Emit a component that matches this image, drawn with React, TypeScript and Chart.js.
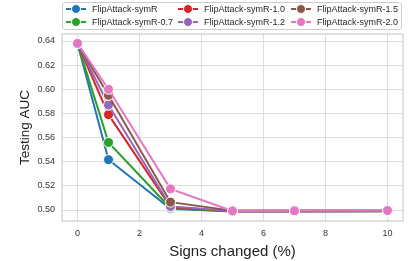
import React, { useEffect, useRef } from "react";
import { Chart, registerables } from "chart.js";
Chart.register(...registerables);

const xValues = [0, 1, 3, 5, 7, 10];
const seriesNames = [
  "FlipAttack-symR",
  "FlipAttack-symR-0.7",
  "FlipAttack-symR-1.0",
  "FlipAttack-symR-1.2",
  "FlipAttack-symR-1.5",
  "FlipAttack-symR-2.0",
];
const symR = [0.638, 0.5417, 0.501, 0.4988, 0.4988, 0.4989];
const symR07 = [0.638, 0.556, 0.5015, 0.4989, 0.4989, 0.499];
const symR10 = [0.638, 0.579, 0.5025, 0.499, 0.499, 0.4992];
const symR12 = [0.638, 0.587, 0.503, 0.4992, 0.4993, 0.4994];
const symR15 = [0.638, 0.595, 0.5065, 0.4995, 0.4995, 0.4997];
const symR20 = [0.638, 0.6, 0.5175, 0.4992, 0.4993, 0.4996];
const seriesValues = [symR, symR07, symR10, symR12, symR15, symR20];
const colors = ["#1f77b4", "#2ca02c", "#d62728", "#9467bd", "#8c564b", "#e377c2"];
const xTicks = [0, 2, 4, 6, 8, 10];
const yTicks = [0.5, 0.52, 0.54, 0.56, 0.58, 0.6, 0.62, 0.64];
const xTitle = "Signs changed (%)";
const yTitle = "Testing AUC";

const FONT = "'Liberation Sans', Arial, sans-serif";

const framePlugin = {
  id: "frame",
  beforeDatasetsDraw(chart: any) {
    const { ctx, chartArea: a } = chart;
    ctx.save();
    ctx.strokeStyle = "#cccccc";
    ctx.lineWidth = 1.2;
    ctx.strokeRect(a.left, a.top, a.right - a.left, a.bottom - a.top);
    ctx.restore();
  },
};

const legendPlugin = {
  id: "customLegend",
  afterDraw(chart: any) {
    const { ctx } = chart;
    ctx.save();
    const fx = 62.5, fy = 2.5, fw = 339, fh = 27, r = 3;
    ctx.fillStyle = "rgba(255,255,255,0.8)";
    ctx.strokeStyle = "#cccccc";
    ctx.lineWidth = 1;
    ctx.beginPath();
    ctx.moveTo(fx + r, fy);
    ctx.lineTo(fx + fw - r, fy);
    ctx.arcTo(fx + fw, fy, fx + fw, fy + r, r);
    ctx.lineTo(fx + fw, fy + fh - r);
    ctx.arcTo(fx + fw, fy + fh, fx + fw - r, fy + fh, r);
    ctx.lineTo(fx + r, fy + fh);
    ctx.arcTo(fx, fy + fh, fx, fy + fh - r, r);
    ctx.lineTo(fx, fy + r);
    ctx.arcTo(fx, fy, fx + r, fy, r);
    ctx.closePath();
    ctx.fill();
    ctx.stroke();
    const colX = [76, 188, 301];
    const rowY = [9, 22];
    ctx.font = `9px ${FONT}`;
    ctx.textBaseline = "middle";
    ctx.textAlign = "left";
    seriesNames.forEach((name, i) => {
      const col = Math.floor(i / 2);
      const row = i % 2;
      const cx = colX[col];
      const cy = rowY[row];
      ctx.strokeStyle = colors[i];
      ctx.lineWidth = 2;
      ctx.beginPath();
      ctx.moveTo(cx - 10, cy);
      ctx.lineTo(cx + 10, cy);
      ctx.stroke();
      ctx.beginPath();
      ctx.arc(cx, cy, 4.5, 0, Math.PI * 2);
      ctx.fillStyle = colors[i];
      ctx.fill();
      ctx.strokeStyle = "#ffffff";
      ctx.lineWidth = 1;
      ctx.stroke();
      ctx.fillStyle = "#262626";
      ctx.fillText(name, cx + 16, cy + 0.5);
    });
    ctx.restore();
  },
};

export default function App() {
  const ref = useRef<HTMLCanvasElement>(null);
  useEffect(() => {
    document.body.style.margin = "0";
    const canvas = ref.current!;
    const chart = new Chart(canvas, {
      type: "line",
      data: {
        datasets: seriesValues.map((vals, i) => ({
          label: seriesNames[i],
          data: xValues.map((x, j) => ({ x, y: vals[j] })),
          borderColor: colors[i],
          backgroundColor: colors[i],
          pointBackgroundColor: colors[i],
          pointBorderColor: "#ffffff",
          pointBorderWidth: 1,
          pointRadius: 5,
          borderWidth: 2,
          tension: 0,
          order: seriesValues.length - 1 - i,
        })),
      },
      options: {
        animation: false,
        responsive: false,
        devicePixelRatio: 1,
        layout: { padding: { top: 34, right: 11, left: 17, bottom: 0 } },
        plugins: { legend: { display: false }, tooltip: { enabled: false } },
        scales: {
          x: {
            type: "linear",
            min: -0.5,
            max: 10.5,
            afterBuildTicks: (s: any) => {
              s.ticks = xTicks.map((v) => ({ value: v }));
            },
            afterFit: (s: any) => {
              s.height = 40;
            },
            grid: { color: "#dddddd", lineWidth: 1, drawTicks: false },
            border: { display: false },
            ticks: {
              padding: 7,
              color: "#333333",
              font: { family: FONT, size: 9 },
              callback: (v: any) => String(v),
            },
            title: {
              display: true,
              text: xTitle,
              color: "#222222",
              font: { family: FONT, size: 15 },
              padding: { top: 1, bottom: 0 },
            },
          },
          y: {
            type: "linear",
            min: 0.4909,
            max: 0.6458,
            afterBuildTicks: (s: any) => {
              s.ticks = yTicks.map((v) => ({ value: v }));
            },
            afterFit: (s: any) => {
              s.width = 45;
            },
            grid: { color: "#dddddd", lineWidth: 1, drawTicks: false },
            border: { display: false },
            ticks: {
              padding: 7,
              color: "#333333",
              font: { family: FONT, size: 9 },
              callback: (v: any) => Number(v).toFixed(2),
            },
            title: {
              display: true,
              text: yTitle,
              color: "#222222",
              font: { family: FONT, size: 13.5 },
              padding: { top: 0, bottom: 2 },
            },
          },
        },
      },
      plugins: [framePlugin, legendPlugin],
    });
    return () => chart.destroy();
  }, []);
  return (
    <canvas ref={ref} width={414} height={261} style={{ display: "block", width: 414, height: 261 }} />
  );
}
